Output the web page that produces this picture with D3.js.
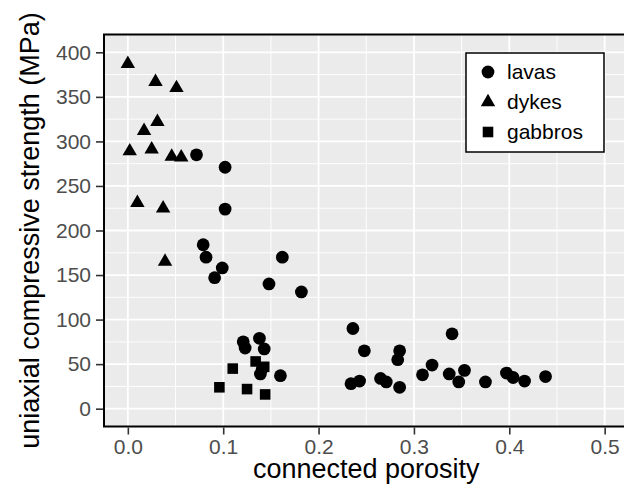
<!DOCTYPE html>
<html>
<head>
<meta charset="utf-8">
<script src="https://cdn.jsdelivr.net/npm/d3@7"></script>
<style>
  body { margin: 0; background: #fff; }
  text { font-family: "Liberation Sans", Arial, Helvetica, sans-serif; }
</style>
</head>
<body>
<svg id="chart" width="624" height="493"></svg>
<script>
// porosity (fraction) and UCS (MPa)
var lavasX = [0.072, 0.102, 0.102, 0.079, 0.082, 0.162, 0.099, 0.091, 0.148, 0.182,
	0.121, 0.138, 0.123, 0.143, 0.141, 0.139, 0.160,
	0.236, 0.248, 0.285, 0.283, 0.234, 0.243, 0.265, 0.271, 0.285,
	0.309, 0.319, 0.340, 0.337, 0.347, 0.353, 0.375, 0.397, 0.404, 0.416, 0.438];
var lavasY = [285, 271, 224, 184, 170, 170, 158, 147, 140, 131,
	75, 79, 68, 67, 45, 39, 37,
	90, 65, 65, 55, 28, 31, 34, 30, 24,
	38, 49, 84, 39, 30, 43, 30, 40, 35, 31, 36];
var dykesX = [0.000, 0.029, 0.051, 0.031, 0.017, 0.002, 0.025, 0.046, 0.056, 0.010, 0.037, 0.039];
var dykesY = [387, 367, 360, 322, 312, 289, 291, 283, 282, 231, 225, 165];
var gabbrosX = [0.110, 0.096, 0.125, 0.144, 0.134, 0.143];
var gabbrosY = [45, 24, 22, 16, 53, 47];

var groups = ["lavas", "dykes", "gabbros"];
var xTicks = [0, 0.1, 0.2, 0.3, 0.4, 0.5];
var yTicks = [0, 50, 100, 150, 200, 250, 300, 350, 400];
var xMinor = [0.05, 0.15, 0.25, 0.35, 0.45];
var yMinor = [25, 75, 125, 175, 225, 275, 325, 375];

var series = [
	{name: groups[0], xs: lavasX, ys: lavasY, shape: d3.symbolCircle, size: 128},
	{name: groups[1], xs: dykesX, ys: dykesY, shape: d3.symbolTriangle, size: 90},
	{name: groups[2], xs: gabbrosX, ys: gabbrosY, shape: d3.symbolSquare, size: 112}
];

var pLeft = 104, pTop = 34.5, pRight = 628.5, pBottom = 426.5;

var x = d3.scaleLinear().domain([-0.025, 0.525]).range([pLeft, pRight]);
var y = d3.scaleLinear().domain([-20, 420]).range([pBottom, pTop]);

var svg = d3.select("#chart");

svg.append("rect")
	.attr("x", pLeft).attr("y", pTop)
	.attr("width", pRight - pLeft).attr("height", pBottom - pTop)
	.attr("fill", "#ebebeb");

var grid = svg.append("g");
grid.selectAll("line.xminor").data(xMinor).enter().append("line")
	.attr("x1", function(d){ return x(d); }).attr("x2", function(d){ return x(d); })
	.attr("y1", pTop).attr("y2", pBottom)
	.attr("stroke", "#fff").attr("stroke-width", 0.9);
grid.selectAll("line.yminor").data(yMinor).enter().append("line")
	.attr("y1", function(d){ return y(d); }).attr("y2", function(d){ return y(d); })
	.attr("x1", pLeft).attr("x2", pRight)
	.attr("stroke", "#fff").attr("stroke-width", 0.9);
grid.selectAll("line.xmajor").data(xTicks).enter().append("line")
	.attr("x1", function(d){ return x(d); }).attr("x2", function(d){ return x(d); })
	.attr("y1", pTop).attr("y2", pBottom)
	.attr("stroke", "#fff").attr("stroke-width", 1.8);
grid.selectAll("line.ymajor").data(yTicks).enter().append("line")
	.attr("y1", function(d){ return y(d); }).attr("y2", function(d){ return y(d); })
	.attr("x1", pLeft).attr("x2", pRight)
	.attr("stroke", "#fff").attr("stroke-width", 1.8);

// points
series.forEach(function(s){
	var sym = d3.symbol().type(s.shape).size(s.size);
	svg.append("g").selectAll("path")
		.data(d3.range(s.xs.length))
		.enter().append("path")
		.attr("d", sym)
		.attr("transform", function(i){
			return "translate(" + x(s.xs[i]) + "," + y(s.ys[i]) + ")";
		})
		.attr("fill", "#000");
});

// panel border
svg.append("rect")
	.attr("x", pLeft).attr("y", pTop)
	.attr("width", pRight - pLeft).attr("height", pBottom - pTop)
	.attr("fill", "none").attr("stroke", "#000").attr("stroke-width", 2);

// axes
var xAxis = d3.axisBottom(x).tickValues(xTicks).tickFormat(d3.format(".1f"))
	.tickSize(7).tickPadding(5);
var yAxis = d3.axisLeft(y).tickValues(yTicks).tickSize(7).tickPadding(5);

var gx = svg.append("g").attr("transform", "translate(0," + (pBottom + 1) + ")").call(xAxis);
var gy = svg.append("g").attr("transform", "translate(" + (pLeft - 1) + ",0)").call(yAxis);
[gx, gy].forEach(function(g){
	g.select(".domain").remove();
	g.selectAll(".tick line").attr("stroke", "#333").attr("stroke-width", 1.6);
	g.selectAll(".tick text").attr("fill", "#4d4d4d")
		.style("font-size", "21px");
});

svg.append("text")
	.attr("x", (pLeft + pRight) / 2).attr("y", 478)
	.attr("text-anchor", "middle")
	.style("font-size", "27px")
	.text("connected porosity");

svg.append("text")
	.attr("transform", "translate(39," + ((pTop + pBottom) / 2) + ") rotate(-90)")
	.attr("text-anchor", "middle")
	.style("font-size", "27px")
	.text("uniaxial compressive strength (MPa)");

// legend
var legend = svg.append("g").attr("transform", "translate(466,53)");
legend.append("rect")
	.attr("width", 138).attr("height", 99)
	.attr("fill", "#fff").attr("stroke", "#000").attr("stroke-width", 1.5);
var rows = legend.selectAll("g.row").data(series).enter().append("g")
	.attr("transform", function(d, i){ return "translate(22," + (19 + i * 30) + ")"; });
rows.append("path")
	.attr("d", function(d){ return d3.symbol().type(d.shape).size(d.size)(); })
	.attr("fill", "#000");
rows.append("text")
	.attr("x", 19).attr("dy", "0.35em")
	.style("font-size", "21px")
	.text(function(d){ return d.name; });
</script>
</body>
</html>
